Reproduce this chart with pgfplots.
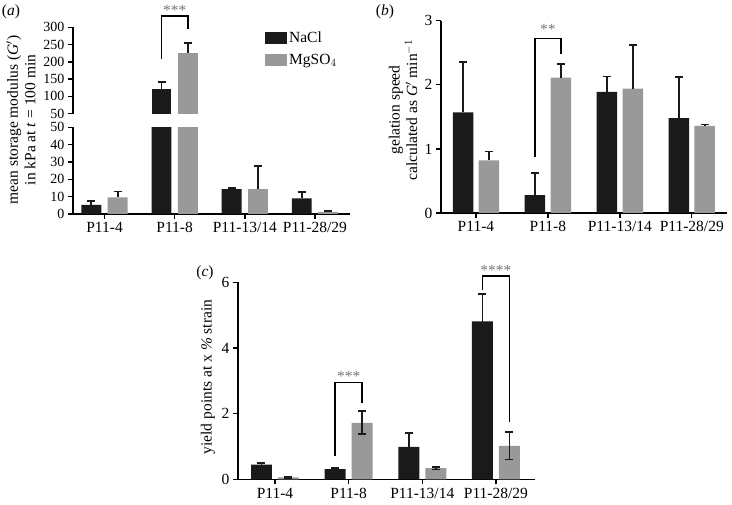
\documentclass[border=0pt]{standalone}
\usepackage{pgfplots}
\pgfplotsset{compat=1.18}
\usepackage{fontspec}
\setmainfont{Liberation Serif}
\definecolor{barblack}{HTML}{1A1A1A}
\definecolor{bargray}{HTML}{999999}
\definecolor{stargray}{HTML}{777777}
\newcommand{\fs}{\fontsize{15.5}{17.5}\selectfont}
\newcommand{\fsa}{\fontsize{14}{16}\selectfont}
\pgfplotsset{
 panel/.style={scale only axis, axis line style={line width=1.4pt, black},
   tick style={line width=1.4pt, black}, major tick length=5pt, tick align=outside,
   clip mode=individual, /pgf/number format/assume math mode=true,
   tick label style={font=\fs}, ytick pos=left, xtick pos=bottom,
   xtick={0,1,2,3}, xticklabels={P11-4,P11-8,P11-13/14,P11-28/29}},
 barplot/.style n args={2}{ybar, bar width=0.285, bar shift=0pt, fill=#1, draw=none, forget plot,
   error bars/.cd, y dir=#2, y explicit,
   error bar style={line width=1.8pt, barblack},
   error mark options={rotate=90, mark size=4pt, line width=1.8pt, barblack}},
}
\begin{document}
\begin{tikzpicture}[x=1pt,y=1pt]
\useasboundingbox (0,0) rectangle (732,505);
% ---------- panel a lower
\begin{axis}[panel, at={(73pt,291pt)}, anchor=south west, width=277pt, height=86.7pt,
  xmin=-0.45, xmax=3.5, ymin=0, ymax=50, ytick={0,10,20,30,40,50},
  yticklabel style={font=\fsa},
  axis x line*=bottom, axis y line*=left]
\addplot[barplot={barblack}{plus}] table[x=x,y=y,y error=e]{
x y e
-0.188 5.2 2.1
0.812 121.5 0
1.812 14.4 0.4
2.812 9.0 3.7
};
\addplot[barplot={bargray}{plus}] table[x=x,y=y,y error=e]{
x y e
0.188 9.6 3.4
1.188 226.5 0
2.188 14.4 13.5
3.188 1.2 0.4
};
\end{axis}
% ---------- panel a upper
\begin{axis}[panel, at={(73pt,391.3pt)}, anchor=south west, width=277pt, height=86.4pt,
  xmin=-0.45, xmax=3.5, ymin=50, ymax=300, ytick={50,100,...,300},
  yticklabel style={font=\fsa},
  axis x line=none, axis y line*=left,
  legend style={draw=none, fill=none, at={(0.693,0.97)}, anchor=north west, font=\fs, row sep=6pt, inner sep=0pt},
  legend cell align=left,
  legend image code/.code={\fill[#1] (0pt,-6pt) rectangle (22pt,6pt);}]
\addplot[barplot={barblack}{plus}] table[x=x,y=y,y error=e]{
x y e
0.812 121.5 20.2
};
\addplot[barplot={bargray}{plus}] table[x=x,y=y,y error=e]{
x y e
1.188 226.5 28.5
};
\addlegendimage{fill=barblack, draw=none}
\addlegendentry{NaCl}
\addlegendimage{fill=bargray, draw=none}
\addlegendentry{MgSO$_4$}
\draw[line width=1.4pt] (axis cs:0.812,207) -- (axis cs:0.812,333) -- (axis cs:1.188,333) -- (axis cs:1.188,294);
\node[text=stargray, font=\fs] at (axis cs:1,350) {***};
\end{axis}
% ---------- panel b
\begin{axis}[panel, at={(441pt,292pt)}, anchor=south west, width=286pt, height=192.3pt,
  xmin=-0.486, xmax=3.49, ymin=0, ymax=3, ytick={0,1,2,3},
  axis x line*=bottom, axis y line*=left]
\addplot[barplot={barblack}{plus}] table[x=x,y=y,y error=e]{
x y e
-0.18 1.57 0.79
0.82 0.28 0.34
1.82 1.89 0.24
2.82 1.48 0.64
};
\addplot[barplot={bargray}{plus}] table[x=x,y=y,y error=e]{
x y e
0.18 0.82 0.14
1.18 2.11 0.22
2.18 1.94 0.68
3.18 1.36 0.02
};
\draw[line width=1.4pt] (axis cs:0.82,0.87) -- (axis cs:0.82,2.72) -- (axis cs:1.18,2.72) -- (axis cs:1.18,2.48);
\node[text=stargray, font=\fs] at (axis cs:1,2.86) {**};
\end{axis}
% ---------- panel c
\begin{axis}[panel, at={(238pt,25.7pt)}, anchor=south west, width=297pt, height=197pt,
  xmin=-0.502, xmax=3.53, ymin=0, ymax=6, ytick={0,2,4,6},
  axis x line*=bottom, axis y line*=left]
\addplot[barplot={barblack}{both}] table[x=x,y=y,y error=e]{
x y e
-0.183 0.45 0.04
0.817 0.31 0.03
1.817 0.99 0.43
2.817 4.81 0.83
};
\addplot[barplot={bargray}{both}] table[x=x,y=y,y error=e]{
x y e
0.183 0.06 0.02
1.183 1.72 0.35
2.183 0.34 0.04
3.183 1.02 0.42
};
\draw[line width=1.4pt] (axis cs:0.817,0.71) -- (axis cs:0.817,2.95) -- (axis cs:1.183,2.95) -- (axis cs:1.183,2.33);
\node[text=stargray, font=\fs] at (axis cs:1,3.14) {***};
\draw[line width=1.4pt] (axis cs:2.817,5.78) -- (axis cs:2.817,6.19) -- (axis cs:3.183,6.19) -- (axis cs:3.183,1.75);
\node[text=stargray, font=\fs] at (axis cs:3,6.36) {****};
\end{axis}
% ---------- labels
\node[rotate=90, align=center, font=\fs] at (21,385) {mean storage modulus (\textit{G}$'$)\\in kPa at \textit{t} = 100 min};
\node[rotate=90, align=center, font=\fs] at (403,395) {gelation speed\\calculated as \textit{G}$'$ min$^{-1}$};
\node[rotate=90, font=\fs] at (208,128) {yield points at x \textit{\%} strain};
\node[font=\fs] at (11,493) {(\textit{a})};
\node[font=\fs] at (385,493) {(\textit{b})};
\node[font=\fs] at (205,232) {(\textit{c})};
\end{tikzpicture}
\end{document}
